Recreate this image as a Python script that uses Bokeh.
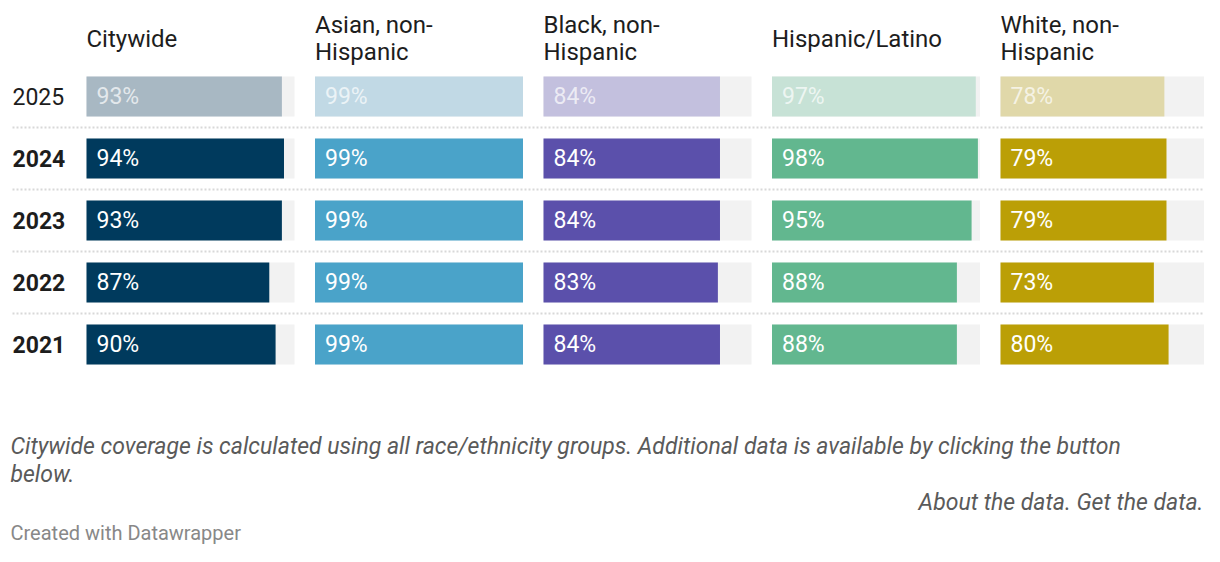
from bokeh.plotting import figure
from bokeh.models import Range1d, ColumnDataSource
from bokeh.embed import file_html
from bokeh.resources import INLINE
from bokeh.core.properties import value

# ---------------- data ----------------
years = ["2025", "2024", "2023", "2022", "2021"]
groups = ["Citywide", "Asian, non-\nHispanic", "Black, non-\nHispanic",
          "Hispanic/Latino", "White, non-\nHispanic"]
citywide = [93, 94, 93, 87, 90]
asian = [99, 99, 99, 99, 99]
black = [84, 84, 84, 83, 84]
hispanic = [97, 98, 95, 88, 88]
white = [78, 79, 79, 73, 80]
series = [citywide, asian, black, hispanic, white]

note_lines = ["Citywide coverage is calculated using all race/ethnicity groups. Additional data is available by clicking the button",
              "below."]
links_text = "About the data. Get the data."
credit_text = "Created with Datawrapper"

# ---------------- styles ----------------
colors = ["#003a5d", "#4aa3c9", "#5b50ab", "#62b78f", "#bb9f06"]
light_colors = ["#a8b8c3", "#c1d9e5", "#c3c0de", "#c7e2d6", "#e0d8a9"]
FONT = value("Roboto")

W, H = 1204, 546
p = figure(width=W, height=H, x_range=Range1d(0, W), y_range=Range1d(H, 0),
           output_backend="svg", toolbar_location=None,
           x_axis_location=None, y_axis_location=None,
           min_border=0, outline_line_color=None, background_fill_color="white")
p.xgrid.visible = False
p.ygrid.visible = False

# layout
col_x0 = 86
col_step = 228.5
col_w = 208
row_y0 = 96
row_step = 62
bar_h = 40
row_y = [row_y0 + row_step * k for k in range(len(years))]
xmax = max(max(s) for s in series)

# separators
sep_y = [y + row_step / 2 for y in row_y[:-1]]
p.segment(x0=12, x1=W - 1, y0=sep_y, y1=sep_y, line_color="#d8d8d8",
          line_width=2, line_dash="2 2")

# year labels
ysrc = ColumnDataSource(dict(y=row_y, text=years,
                             style=["normal"] + ["bold"] * (len(years) - 1)))
p.text(x=12, y="y", text="text", source=ysrc, text_font=FONT, text_font_size="23px",
       text_font_style="style", text_color="#1d1d1d", text_baseline="middle")

# headers
p.text(x=[col_x0 + i * col_step for i in range(len(groups))], y=38, text=groups,
       text_font=FONT, text_font_size="24px", text_color="#1d1d1d",
       text_baseline="middle", text_line_height=0.97)

for i, vals in enumerate(series):
    x0 = col_x0 + i * col_step
    sub = p.subplot(x_source=Range1d(0, xmax), y_source=Range1d(H, 0),
                    x_target=Range1d(x0, x0 + col_w), y_target=Range1d(H, 0))
    sub.hbar(y=row_y, left=0, right=xmax, height=bar_h, fill_color="#f2f2f2", line_color=None)
    fills = [light_colors[i]] + [colors[i]] * (len(years) - 1)
    sub.hbar(y=row_y, left=0, right=vals, height=bar_h, fill_color=fills, line_color=None)
    sub.text(x=0, y=row_y, text=[f"{v}%" for v in vals], x_offset=10,
             text_font=FONT, text_font_size="23px", text_color="white",
             text_alpha=[0.7] + [1.0] * (len(years) - 1), text_baseline="middle")

# footer
p.text(x=10, y=[446, 474], text=note_lines, text_font=FONT, text_font_size="23px",
       text_font_style="italic", text_color="#5a5a5a", text_baseline="middle")
p.text(x=W - 1, y=502, text=[links_text], text_font=FONT, text_font_size="23px",
       text_font_style="italic", text_color="#5a5a5a", text_baseline="middle",
       text_align="right")
p.text(x=10, y=532, text=[credit_text], text_font=FONT, text_font_size="20px",
       text_color="#888888", text_baseline="middle")

open("out.html", "w").write(file_html(p, INLINE))
